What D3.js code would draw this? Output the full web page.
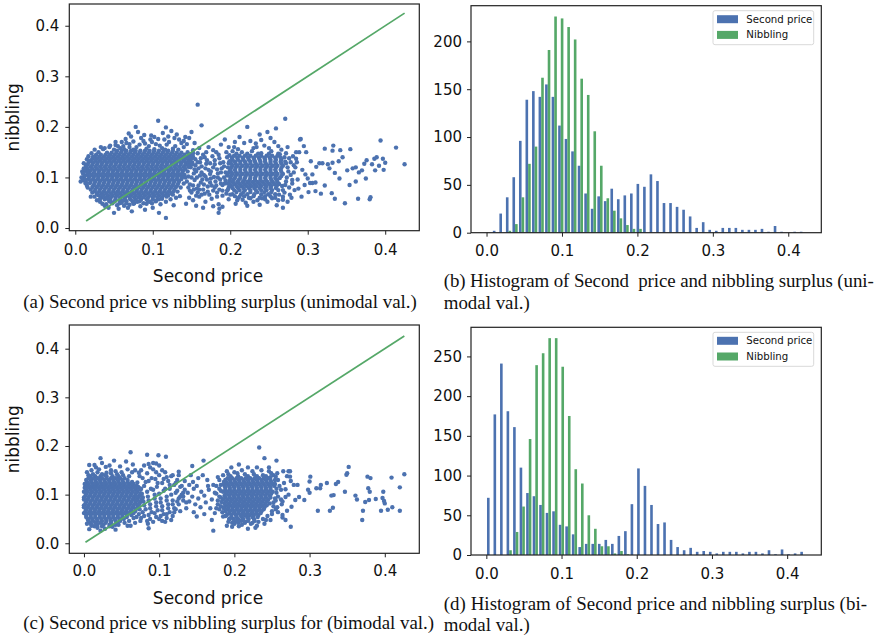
<!DOCTYPE html>
<html>
<head>
<meta charset="utf-8">
<script src="https://cdn.jsdelivr.net/npm/d3@7"></script>
<style>
  body { margin: 0; background: #fff; }
  .cap { font-family: "Liberation Serif", "Times New Roman", serif; white-space: pre; }
</style>
</head>
<body>
<svg id="fig" width="877" height="639"></svg>
<script>
// ---------- data ----------
// scatter values are in thousandths (x = second price, y = nibbling)
// dense parts are typed as rows: [y, [x, x, ...]]
var uniDenseRows = [
  [153,[54,60,66,72,78,84,90,96,102,108,114,120,126]],
  [149,[41,47,53,59,65,71,77,83,89,95,101,107,113,119,125,131,137]],
  [145,[27,33,39,45,51,57,63,69,75,81,87,93,99,105,111,117,123,129,135,141,147]],
  [141,[25,31,37,43,49,55,61,67,73,79,85,91,97,103,109,115,121,127,133,139,145]],
  [137,[22,28,34,40,46,52,58,64,70,76,82,88,94,100,106,112,118,124,130,136,142,150]],
  [133,[20,26,32,38,44,50,56,62,68,74,80,86,92,98,104,110,116,122,128,134,140,146]],
  [129,[17,23,29,35,41,47,53,59,65,71,77,83,89,95,101,107,113,119,125,131,137,143,151]],
  [125,[16,22,28,34,40,46,52,58,64,70,76,82,88,94,100,106,112,118,124,130,136,142,148]],
  [121,[14,20,26,32,38,44,50,56,62,68,74,80,86,92,98,104,110,116,122,128,134,140,146]],
  [117,[16,22,28,34,40,46,52,58,64,70,76,82,88,94,100,106,112,118,124,130,136,142]],
  [113,[13,19,25,31,37,43,49,55,61,67,73,79,85,91,97,103,109,115,121,127,133,139]],
  [109,[18,24,30,36,42,48,54,60,66,72,78,84,90,96,102,108,114,120,126,132,138]],
  [105,[15,21,27,33,39,45,51,57,63,69,75,81,87,93,99,105,111,117,123,129,135,141]],
  [101,[18,24,30,36,42,48,54,60,66,72,78,84,90,96,102,108,114,120,126,132,138]],
  [97,[17,23,29,35,41,47,53,59,65,71,77,83,89,95,101,107,113,119,125,131,137]],
  [93,[20,26,32,38,44,50,56,62,68,74,80,86,92,98,104,110,116,122,128,134]],
  [89,[19,25,31,37,43,49,55,61,67,73,79,85,91,97,103,109,115,121,127,133]],
  [85,[24,30,36,42,48,54,60,66,72,78,84,90,96,102,108,114,120,126,132]],
  [81,[22,28,34,40,46,52,58,64,70,76,82,88,94,100,106,112,118,124,130]],
  [77,[26,32,38,44,50,56,62,68,74,80,86,92,98,104,110,116,122,128]],
  [73,[25,31,37,43,49,55,61,67,73,79,85,91,97,103,109,115,121,127]],
  [69,[28,34,40,46,52,58,64,70,76,82,88,94,100,106,112,118,124]],
  [65,[30,36,42,48,54,60,66,72,78,84,90,96,102,108,114,120]],
  [61,[34,40,46,52,58,64,70,76,82,88,94,100,106,112]],
  [57,[38,45,52,58,64,71,78,85,92,100,108]],
  [53,[44,51,58,66,74,83,94,104]],
  [49,[48,57,66,76,88,99]],
  [147,[208,222,236,250,262]],
  [143,[205,212,219,226,233,240,247,254,261]],
  [139,[202,209,216,223,230,237,244,251,258,265]],
  [135,[203,210,217,224,231,238,245,252,259,266]],
  [131,[200,206,213,219,226,232,239,245,252,258,265,271]],
  [127,[201,207,213,220,226,233,239,246,252,259,266]],
  [123,[203,209,216,222,229,235,242,248,255,261,268]],
  [119,[201,207,213,220,226,233,239,246,252,259,266]],
  [115,[200,206,213,219,226,232,239,245,252,258,265]],
  [111,[201,207,213,220,226,233,239,246,252,259,266]],
  [107,[203,209,216,222,229,235,242,248,255,261,268]],
  [103,[201,207,213,220,226,233,239,246,252,259,266]],
  [99,[200,206,213,219,226,232,239,245,252,258,264]],
  [95,[204,211,218,225,232,239,246,253,260]],
  [91,[203,209,216,222,229,235,242,248,255,261]],
  [87,[205,212,218,225,231,238,244,251,257,263]],
  [83,[201,208,214,221,227,234,240,247,253,260,267]],
  [79,[203,210,217,224,231,238,245,252,259]],
  [75,[205,212,219,226,233,240,247,254,262]],
  [71,[208,217,226,235,244,253]],
  [67,[203,214,222,231,240,249,258]],
  [63,[206,218,230,245]],
  [59,[210,226,241,254]]
];
var uniLoosePts = [
  [45,163],[58,158],[66,168],[79,160],[88,172],[95,162],[104,166],[112,158],[121,170],[129,162],[137,168],
  [72,181],[81,190],[85,178],[98,183],[107,176],[113,188],[120,181],[124,192],[131,185],[65,176],[78,200],[107,212],[117,199],
  [145,150],[152,141],[158,130],[149,120],[156,112],[146,102],[154,95],[148,86],[157,78],[150,70],[160,62],[147,60],
  [165,145],[170,134],[163,122],[172,115],[166,105],[175,98],[162,90],[171,82],[178,74],[167,68],[176,58],
  [182,150],[186,138],[180,126],[189,118],[184,108],[192,100],[181,92],[190,85],[186,76],[195,68],[183,62],
  [196,140],[198,128],[194,110],[199,93],[172,160],[160,158],[188,165],[168,52],[185,47],[152,55],[178,43],[143,48],[156,44],
  [148,132],[155,124],[161,104],[153,108],[168,118],[174,107],[164,96],[179,101],[187,96],[193,88],[159,84],[174,90],
  [182,84],[165,76],[173,66],[153,76],[145,112],[162,138],[177,142],[191,130],[197,120],[183,116],[169,127],[158,70],[190,74],[198,80],[144,92],
  [205,160],[218,168],[230,158],[244,163],[257,170],[266,155],[272,148],[276,138],[274,120],[278,105],[272,92],[276,80],
  [270,70],[268,62],[262,55],[248,52],[235,55],[220,50],[209,55],[198,57],[193,175],[212,180],[222,200],[238,185],[248,190],
  [259,197],[271,216],[268,40],[190,42],[186,38],[165,40],[150,190],[158,244],[163,203],[140,172],[147,178],[154,168],
  [281,142],[284,120],[280,95],[283,75],[279,60],[286,130],[289,150],[291,176],[185,30],[117,20],[108,30],[50,30],
  [43,40],[35,48],[28,55],[20,62],[22,70],[16,80],[13,89],[11,100],[16,112],[11,118],[15,136],[21,148],[25,155],[33,160],
  [10,95],[12,104],[9,112],[14,124],[18,133],[23,141],[30,150],[36,156],[44,160],[52,164],[62,162],[70,166],[148,145],[152,154],
  [148,128],[150,138],[35,64],[28,68],[20,76],[15,84],[42,58],[32,58],[25,62],[60,50],[70,46],[80,52],[92,48],[104,54],[112,58],
  [118,62],[126,66],[132,72],[136,80],[140,88],[142,100],
  [38,158],[50,155],[55,162],[63,156],[70,160],[75,155],[83,165],[92,157],[99,170],[102,156],[109,163],[116,155],[118,165],
  [126,157],[133,155],[140,160],[144,166],[60,170],[90,167],[97,175],[134,175],[75,171],[52,170],[115,175],[142,180],
  [102,180],[89,184],[69,187],[128,178],
  [32,52],[40,47],[46,52],[54,45],[62,55],[68,40],[75,48],[84,43],[96,52],[100,40],[110,47],[117,52],[123,57],[130,60],
  [38,44],[56,38],[90,36],[73,33],[127,45],[135,63],[63,44],
  [8,100],[10,108],[12,116],[7,92],[14,90],[11,128],[13,96],[17,142],
  [147,140],[151,126],[155,136],[159,118],[163,110],[150,100],[157,100],[152,84],[160,76],[166,86],[170,96],[175,112],
  [178,120],[184,100],[188,110],[192,122],[196,104],[199,112],[180,134],[174,128],[167,140],[158,148],[169,150],[178,154],
  [187,128],[194,94],[188,88],[180,80],[171,72],[163,66],[156,64],[148,74],[146,80],[190,64],[196,74],[199,86],[183,70],
  [176,84],[168,102],[154,116],[161,130],[146,124],[152,148],[185,145],[195,150],[198,160],
  [203,152],[215,150],[228,152],[240,148],[253,152],[264,146],[270,140],[272,128],[275,112],[273,100],[271,85],[268,75],
  [263,66],[252,63],[238,60],[224,60],[212,62],[200,66],[197,76],[197,88],[197,108],[199,132],[199,144],[210,156],[234,160],
  [250,158],[262,162],[216,56],[230,52],[245,57],[258,60],[268,56],[277,66],[280,88],[278,130],[282,110],[285,150],[274,160],
  [206,170],[226,172],[240,174],[252,178],[233,167],[207,48],[222,44],[238,46],[260,45],
  [425,126],[414,159],[394,173],[400,129],[398,115],[397,137],[392,123],[387,114],[380,57],[381,61],[376,134],[375,98],
  [355,156],[351,114],[348,49],[354,85],[342,154],[341,98],[333,163],[332,153],[335,109],[332,129],[331,69],[335,58],
  [322,157],[322,84],[319,128],[315,128],[317,68],[311,121],[306,89],[303,89],[301,71],[297,106],[295,162],[290,175],
  [288,78],[285,137],[282,124],[274,52],[386,137],[389,140],[383,126],[366,110],[362,120],[370,114],[358,118],[340,132],
  [326,126],[328,118],[310,90],[298,150],[304,132],[293,115],[287,96],[296,85],[300,98],[292,62],[306,106],[310,73],
  [345,140],[365,58],[362,92],[373,127]
];
var uniDiag = [0.014, 0.425];

var biDenseRows = [
  [138,[8,15,22,30,38,46]],
  [134,[6,12,18,24,30,36,42,48,54]],
  [130,[3,9,15,21,27,33,39,45,51,58]],
  [126,[4,10,16,22,28,34,40,46,52,58,64]],
  [122,[1,6,12,18,24,30,36,42,48,54,60,66]],
  [118,[4,10,16,22,28,34,40,46,52,58,64,70]],
  [114,[1,7,13,19,25,31,37,43,49,55,61,67,73]],
  [110,[3,9,15,21,27,33,39,45,51,57,63,69]],
  [106,[0,5,11,17,23,29,35,41,47,53,59,65,71]],
  [102,[3,9,15,21,27,33,39,45,51,57,63,69,75]],
  [98,[2,8,14,20,26,32,38,44,50,56,62,68,74]],
  [94,[0,6,12,18,24,30,36,42,48,54,60,66,72,78]],
  [90,[0,5,11,17,23,29,35,41,47,53,59,65,71,77]],
  [86,[3,9,15,21,27,33,39,45,51,57,63,69,75]],
  [82,[2,8,14,20,26,32,38,44,50,56,62,68,74]],
  [78,[0,6,12,18,24,30,36,42,48,54,60,66,72]],
  [74,[0,5,11,17,23,29,35,41,47,53,59,65,71]],
  [70,[3,9,15,21,27,33,39,45,51,57,63,69]],
  [66,[2,8,14,20,26,32,38,44,50,56,62,68]],
  [62,[0,6,12,18,24,30,36,42,48,54,60,66]],
  [58,[3,9,15,21,27,33,39,45,51,57,63]],
  [54,[3,9,15,21,27,33,39,45,51,57]],
  [50,[5,11,17,23,29,35,41,47,53]],
  [46,[6,12,18,24,30,36,42,48]],
  [42,[8,15,22,29,36,44]],
  [38,[10,18,26,34,42]],
  [35,[14,24,34]],
  [138,[195,205,218,230,242]],
  [134,[191,197,203,209,215,221,227,233,239,245]],
  [130,[188,194,200,206,212,218,224,230,236,242,248]],
  [126,[189,195,201,207,213,219,225,231,237,243,249]],
  [122,[186,191,197,203,209,215,221,227,233,239,245,251]],
  [118,[187,193,199,205,211,217,223,229,235,241,247,253]],
  [114,[188,194,200,206,212,218,224,230,236,242,248]],
  [110,[188,194,200,206,212,218,224,230,236,242,248]],
  [106,[185,191,197,203,209,215,221,227,233,239,245,251]],
  [102,[189,195,201,207,213,219,225,231,237,243,249]],
  [98,[187,193,199,205,211,217,223,229,235,241,247]],
  [94,[188,194,200,206,212,218,224,230,236,242,248]],
  [90,[185,191,197,203,209,215,221,227,233,239,245]],
  [86,[189,195,201,207,213,219,225,231,237,243]],
  [82,[187,193,199,205,211,217,223,229,235,241,247]],
  [78,[189,195,201,207,213,219,225,231,237,243]],
  [74,[186,192,198,204,210,216,222,228,234,240]],
  [70,[191,197,203,209,215,221,227,233,239]],
  [66,[188,194,200,206,212,218,224,230,236]],
  [62,[193,199,205,211,217,223,229,235]],
  [58,[190,196,202,208,214,220,226,232]],
  [54,[196,203,210,217,224,231]],
  [50,[193,199,205,212,219,226]],
  [46,[200,209,218,227]],
  [42,[197,205,214,224]]
];
var biLoosePts = [
  [76,150],[84,144],[92,152],[100,140],[108,146],[116,138],[124,130],[78,134],[86,128],[95,132],[104,124],[112,128],
  [120,120],[128,116],[80,118],[89,112],[97,116],[106,108],[114,112],[122,104],[130,100],[77,102],[85,96],[94,100],
  [102,92],[110,96],[118,88],[126,92],[79,86],[88,80],[96,84],[104,76],[112,80],[120,72],[82,70],[90,64],[98,68],
  [106,60],[114,64],[80,56],[88,50],[96,54],[104,46],[73,60],[75,46],[85,40],[68,42],[62,36],[110,52],[118,56],
  [126,80],[132,88],[128,66],[134,110],[100,160],[92,165],[73,145],[80,160],[68,150],[64,146],[58,152],[50,146],
  [42,148],[36,150],[30,145],[24,142],[18,146],[12,142],[6,140],[70,95],[73,80],[75,110],[71,125],
  [74,138],[82,126],[90,134],[98,124],[106,132],[114,120],[122,124],[130,118],[76,112],[84,106],[92,110],[100,102],
  [108,112],[116,100],[124,108],[78,94],[86,88],[94,92],[102,84],[110,88],[118,80],[124,86],[80,78],[88,72],[96,76],
  [104,68],[112,72],[120,64],[78,64],[86,58],[94,62],[102,56],[110,60],[76,52],[84,46],[92,44],[100,50],[108,44],
  [116,48],[122,70],[128,96],[132,104],[70,88],[72,116],[74,70],[70,54],[118,140],[110,136],[126,140],[96,146],[88,156],[104,150],
  [4,146],[10,150],[20,152],[28,140],[36,144],[44,142],[52,140],[60,138],[16,156],[34,160],[48,158],[56,168],[40,170],[24,165],
  [10,36],[18,32],[28,30],[38,34],[46,38],[54,42],[60,46],[4,40],[22,26],[42,28],[58,36],[66,52],
  [62,187],[84,182],[99,181],[109,178],[22,175],[7,161],[14,161],[233,197],[240,175],[206,162],[256,170],[159,170],
  [144,159],[126,147],[86,163],[96,164],[29,157],[65,162],[6,48],[7,29],[86,31],[172,26],[275,34],[197,34],[206,35],
  [134,128],[140,120],[146,112],[138,104],[150,118],[156,106],[144,96],[152,92],[160,98],[166,110],[172,120],[176,102],
  [170,90],[162,84],[148,80],[140,86],[155,74],[168,72],[178,80],[182,94],[136,72],[146,64],[160,60],[174,62],[180,112],
  [186,126],[164,130],[152,134],[178,136],[142,140],[158,140],[132,96],[136,84],[186,72],[190,105],[170,48],[150,55],
  [185,55],[165,118],[145,126],
  [254,130],[256,112],[258,96],[252,84],[255,70],[250,60],[248,48],[240,40],[230,36],[210,38],[200,40],[192,44],
  [183,85],[180,70],[182,120],[252,140],[246,148],[236,150],[224,148],[210,150],[200,146],[190,148],[262,110],[266,124],
  [268,95],[263,80],[270,138],[274,148],[272,100],[276,75],[264,58],[268,48],
  [185,140],[192,142],[204,144],[214,142],[226,142],[238,140],[248,136],[254,122],[256,104],[254,92],[252,76],[250,66],
  [244,56],[238,50],[232,44],[222,40],[214,44],[204,46],[194,50],[188,56],[184,64],[182,76],[180,96],[182,108],[180,130],
  [176,118],[178,88],[242,48],[228,32],[218,30],[190,36],[246,156],[218,156],[196,156],[230,156],[258,130],[260,118],
  [262,90],[258,64],[176,72],[174,104],
  [426,142],[409,135],[420,115],[420,67],[410,74],[404,69],[398,106],[397,93],[399,87],[400,82],[395,67],[381,134],
  [377,137],[378,113],[380,106],[388,91],[379,89],[374,85],[371,67],[370,48],[361,98],[363,90],[352,157],[350,144],
  [349,141],[347,106],[338,126],[335,122],[332,99],[329,98],[331,73],[327,67],[323,124],[315,120],[314,113],[311,67],
  [309,113],[301,137],[300,127],[298,110],[300,104],[293,89],[286,95],[281,89],[284,120],[279,120],[275,128],[274,137],
  [268,111],[270,67],[264,53],[255,137],[257,144],[249,144],[265,148],[272,148],[264,86],[257,74],[255,88]
];
var biDiag = [0.002, 0.426];

// histogram counts per bin (blue = second price, green = nibbling)
var uniBinStart = 0.0075, uniBinWidth = 0.00866;
var uniSecondCounts = [2,20,37,58,96,139,148,142,155,142,112,98,85,70,41,25,38,33,46,35,39,41,51,48,61,54,31,31,27,24,17,5,11,3,2,5,5,5,3,3,3,4,1,7,1,0,1,1];
var uniNibblingCounts = [0,0,2,9,37,72,90,162,191,226,224,215,202,161,144,106,70,36,23,15,8,4,4,0,0,0,0,0,0,0,0,0,0,0,0,0,0,0,0,0,0,0,0,0,0,0,0,0];
var biBinStart = 0.0, biBinWidth = 0.00868;
var biSecondCounts = [72,177,241,181,161,110,78,74,63,53,55,38,36,26,10,14,14,14,19,14,24,30,64,109,87,63,39,41,19,10,6,9,4,5,4,2,4,4,4,2,4,4,2,6,1,7,1,2,4];
var biNibblingCounts = [0,0,0,6,29,61,146,239,254,273,273,237,175,108,90,50,33,11,11,2,5,1,0,0,0,0,0,0,0,0,0,0,0,0,0,0,0,0,0,0,0,0,0,0,0,0,0,0,0];

var priceTicks = [0, 0.1, 0.2, 0.3, 0.4];
var uniCountTicks = [0, 50, 100, 150, 200];
var biCountTicks = [0, 50, 100, 150, 200, 250];
var legendLabels = ["Second price", "Nibbling"];

var BLUE = "#4c72b0", GREEN = "#55a868", INK = "#222";
var svg = d3.select("#fig");

function unpack(rows, loose) {
    var pts = [];
    rows.forEach(function(r){ r[1].forEach(function(x){ pts.push([x/1000, r[0]/1000]); }); });
    loose.forEach(function(p){ pts.push([p[0]/1000, p[1]/1000]); });
    return pts;
}

function styleAxis(ax) {
    ax.select(".domain").remove();
    ax.selectAll(".tick line").attr("stroke", INK).attr("stroke-width", 1);
    ax.selectAll(".tick text").attr("fill", "#111").attr("font-size", 15).attr("font-family", "DejaVu Sans");
}

function frame(p) {
    svg.append("rect")
        .attr("x", p.left).attr("y", p.top)
        .attr("width", p.right - p.left).attr("height", p.bottom - p.top)
        .attr("fill", "none").attr("stroke", INK).attr("stroke-width", 1.2);
}

function scatterPanel(p, pts, diag) {
    var x = d3.scaleLinear().domain(p.xDom).range([p.left, p.right]);
    var y = d3.scaleLinear().domain(p.yDom).range([p.bottom, p.top]);
    var g = svg.append("g");
    g.selectAll("circle").data(pts).join("circle")
        .attr("cx", function(d){ return x(d[0]); })
        .attr("cy", function(d){ return y(d[1]); })
        .attr("r", 2.2)
        .attr("fill", BLUE);
    g.append("line")
        .attr("x1", x(diag[0])).attr("y1", y(diag[0]))
        .attr("x2", x(diag[1])).attr("y2", y(diag[1]))
        .attr("stroke", GREEN).attr("stroke-width", 1.7);
    frame(p);
    var ax = svg.append("g").attr("transform", "translate(0," + p.bottom + ")")
        .call(d3.axisBottom(x).tickValues(priceTicks).tickFormat(d3.format(".1f")).tickSize(4).tickPadding(p.xPad));
    styleAxis(ax);
    var ay = svg.append("g").attr("transform", "translate(" + p.left + ",0)")
        .call(d3.axisLeft(y).tickValues(priceTicks).tickFormat(d3.format(".1f")).tickSize(4).tickPadding(6));
    styleAxis(ay);
    svg.append("text").attr("x", 208).attr("y", p.bottom + 51)
        .attr("text-anchor", "middle").attr("font-family", "DejaVu Sans").attr("font-size", 17)
        .attr("fill", "#111").text("Second price");
    var cy = (p.top + p.bottom) / 2;
    svg.append("text").attr("transform", "translate(19," + cy + ") rotate(-90)")
        .attr("text-anchor", "middle").attr("font-family", "DejaVu Sans").attr("font-size", 17)
        .attr("fill", "#111").text("nibbling");
}

function histPanel(p, start, w, blue, green, yTicks) {
    var x = d3.scaleLinear().domain(p.xDom).range([p.left, p.right]);
    var ymax = d3.max(blue.concat(green)) * 1.05;
    var y = d3.scaleLinear().domain([0, ymax]).range([p.bottom, p.top]);
    var bw = x(0.4 * w) - x(0);
    var g = svg.append("g");
    [[blue, BLUE, 0.1], [green, GREEN, 0.5]].forEach(function(s){
        var bins = s[0].map(function(c, i){ return {i: i, c: c}; })
            .filter(function(b){ return b.c > 0; });
        g.append("g").selectAll("rect").data(bins).join("rect")
            .attr("x", function(b){ return x(start + b.i * w + s[2] * w); })
            .attr("y", function(b){ return y(b.c); })
            .attr("width", bw)
            .attr("height", function(b){ return y(0) - y(b.c); })
            .attr("fill", s[1]);
    });
    frame(p);
    var ax = svg.append("g").attr("transform", "translate(0," + p.bottom + ")")
        .call(d3.axisBottom(x).tickValues(priceTicks).tickFormat(d3.format(".1f")).tickSize(4).tickPadding(9));
    styleAxis(ax);
    var ay = svg.append("g").attr("transform", "translate(" + p.left + ",0)")
        .call(d3.axisLeft(y).tickValues(yTicks).tickFormat(d3.format("d")).tickSize(4).tickPadding(5));
    styleAxis(ay);
    // legend
    var lx = p.right - 108.3, ly = p.top + 5;
    var lg = svg.append("g").attr("transform", "translate(" + lx + "," + ly + ")");
    lg.append("rect").attr("width", 100.7).attr("height", 34).attr("rx", 2)
        .attr("fill", "#fff").attr("fill-opacity", 0.8).attr("stroke", "#d9d9d9");
    [BLUE, GREEN].forEach(function(c, i){
        lg.append("rect").attr("x", 4).attr("y", 4.5 + i * 15.7).attr("width", 21).attr("height", 8).attr("fill", c);
        lg.append("text").attr("x", 33.3).attr("y", 8.5 + i * 15.7).attr("dy", "0.35em")
            .attr("font-family", "DejaVu Sans").attr("font-size", 10.2).attr("fill", "#111")
            .text(legendLabels[i]);
    });
}

var pa = {left: 69.3, right: 419.3, top: 4, bottom: 230.7, xDom: [-0.0077, 0.444], yDom: [-0.0053, 0.443], xPad: 9.5};
var pb = {left: 471, right: 821.3, top: 5.7, bottom: 232.7, xDom: [-0.0206, 0.4438]};
var pc = {left: 69.3, right: 419.3, top: 325, bottom: 553.3, xDom: [-0.0195, 0.4459], yDom: [-0.0206, 0.4487], xPad: 8};
var pd = {left: 471, right: 821.3, top: 327.3, bottom: 555, xDom: [-0.0204, 0.4454]};

scatterPanel(pa, unpack(uniDenseRows, uniLoosePts), uniDiag);
histPanel(pb, uniBinStart, uniBinWidth, uniSecondCounts, uniNibblingCounts, uniCountTicks);
scatterPanel(pc, unpack(biDenseRows, biLoosePts), biDiag);
histPanel(pd, biBinStart, biBinWidth, biSecondCounts, biNibblingCounts, biCountTicks);

// captions
function caption(x, y, txt, len) {
    var t = svg.append("text").attr("class", "cap").attr("x", x).attr("y", y)
        .attr("font-size", 18.9).attr("fill", "#111").text(txt);
    if (len) t.attr("textLength", len).attr("lengthAdjust", "spacing");
}
caption(23.3, 308, "(a) Second price vs nibbling surplus (unimodal val.)");
caption(443.7, 287, "(b) Histogram of Second  price and nibbling surplus (uni-", 430);
caption(443.7, 309, "modal val.)");
caption(23.3, 629, "(c) Second price vs nibbling surplus for (bimodal val.)");
caption(443.7, 609.8, "(d) Histogram of Second price and nibbling surplus (bi-", 423.3);
caption(443.7, 631.4, "modal val.)");
</script>
</body>
</html>
